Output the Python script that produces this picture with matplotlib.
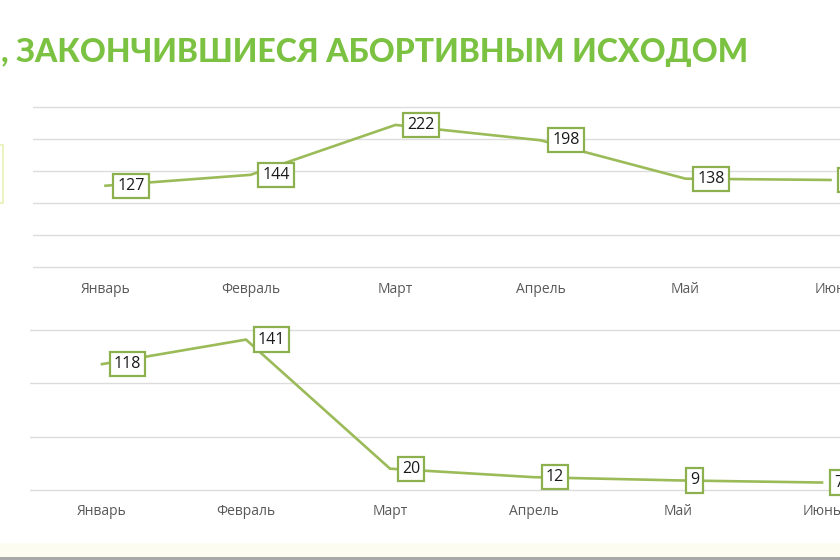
import matplotlib.pyplot as plt
from matplotlib.patches import Rectangle

# data (top June value is cut off, estimated)
months = ["Январь", "Февраль", "Март", "Апрель", "Май", "Июнь"]
months_top = ["Январь", "Февраль", "Март", "Апрель", "Май", "Июн"]
top_values = [127, 144, 222, 198, 138, 136]
bottom_values = [118, 141, 20, 12, 9, 7]
top_ticks = [0, 50, 100, 150, 200, 250]
bottom_ticks = [0, 50, 100, 150]

title = ", ЗАКОНЧИВШИЕСЯ АБОРТИВНЫМ ИСХОДОМ"

line_color = "#9bbb59"
box_color = "#8db04e"
grid_color = "#dcdcdc"
title_color = "#7cc242"

W, H = 840, 560
fig = plt.figure(figsize=(W / 100, H / 100), dpi=100)
fig.patch.set_facecolor("white")


def px_axes(left, bottom_px, right, top_px):
    # left/right in px from left, top/bottom in px from top
    return fig.add_axes([left / W, 1 - bottom_px / H, (right - left) / W,
                         (bottom_px - top_px) / H])


def draw_panel(ax, labels, values, ticks, pad):
    x = list(range(len(values)))
    ax.plot(x, values, color=line_color, lw=1.9, zorder=2, solid_joinstyle="miter")
    for xi, v in zip(x, values):
        ax.annotate(str(v), (xi, v), xytext=(8.5, 0), textcoords="offset points",
                    ha="left", va="center", fontsize=11.5, color="#1a1a1a",
                    family="Open Sans", zorder=3,
                    bbox=dict(boxstyle="square,pad=0.26", fc="white",
                              ec=box_color, lw=1.6))
    ax.set_xlim(-0.5, len(values) - 0.5)
    ax.set_yticks(ticks)
    ax.yaxis.grid(True, color=grid_color, lw=1.0)
    ax.set_axisbelow(True)
    ax.set_xticks(x)
    ax.set_xticklabels(labels, fontsize=10, color="#595959", family="Open Sans")
    ax.tick_params(axis="x", length=0, pad=pad)
    ax.tick_params(axis="y", length=0, labelleft=False)
    for s in ax.spines.values():
        s.set_visible(False)
    ax.patch.set_alpha(0)


# top chart: 0 at y=267px, 250 at y=107px
k1 = 160 / 250
ax1 = px_axes(33, 267 + 5 * k1, 33 + 145 * 6, 107 - 5 * k1)
ax1.set_ylim(-5, 255)
draw_panel(ax1, months_top, top_values, top_ticks, 8.5)

# bottom chart: 0 at y=490px, 150 at y=330px
k2 = 160 / 150
ax2 = px_axes(30, 490 + 3 * k2, 30 + 144 * 6, 330 - 3 * k2)
ax2.set_ylim(-3, 153)
draw_panel(ax2, months, bottom_values, bottom_ticks, 7.5)

# title: size it so it spans the same width as in the slide (~746 px)
t = fig.text(1 / W, 1 - 62 / H, title, fontsize=24, fontweight="black",
             color=title_color, va="baseline", ha="left", family="Lato")
renderer = fig.canvas.get_renderer()
w = t.get_window_extent(renderer).width
t.set_fontsize(24 * 747 / w)

# remnants of cropped slide shapes
fig.patches.append(Rectangle((-0.05, 1 - 203 / H), 0.053, 58 / H,
                             transform=fig.transFigure, fill=False,
                             ec="#e6f2b8", lw=1.2))
fig.patches.append(Rectangle((0, 0), 1, 17 / H, transform=fig.transFigure,
                             fc="#fdfcf0", ec="none"))
fig.patches.append(Rectangle((0, 0), 1, 3 / H, transform=fig.transFigure,
                             fc="#a9a9a9", ec="none"))

fig.savefig("out.png", dpi=100)
